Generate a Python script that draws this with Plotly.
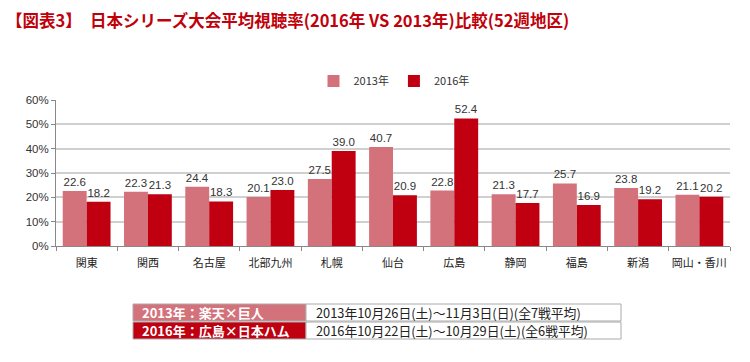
import plotly.graph_objects as go

categories = ["関東", "関西", "名古屋", "北部九州", "札幌", "仙台", "広島", "静岡", "福島", "新潟", "岡山・香川"]
rating_2013 = [22.6, 22.3, 24.4, 20.1, 27.5, 40.7, 22.8, 21.3, 25.7, 23.8, 21.1]
rating_2016 = [18.2, 21.3, 18.3, 23.0, 39.0, 20.9, 52.4, 17.7, 16.9, 19.2, 20.2]
series_names = ["2013年", "2016年"]
ytick_vals = [0, 10, 20, 30, 40, 50, 60]
ytick_text = ["0%", "10%", "20%", "30%", "40%", "50%", "60%"]
table_rows = [
    ("2013年：楽天×巨人", "2013年10月26日(土)～11月3日(日)(全7戦平均)"),
    ("2016年：広島×日本ハム", "2016年10月22日(土)～10月29日(土)(全6戦平均)"),
]
title_text = "【図表3】　日本シリーズ大会平均視聴率(2016年 VS 2013年)比較(52週地区)"

W, H = 750, 362
L, R, T, B = 56, 730, 100, 246
FONT = "Noto Sans CJK JP"
C13 = "#D4727C"
C16 = "#C00010"

def px(x):
    return (x - L) / (R - L)

def py(y):
    return (B - y) / (B - T)

fig = go.Figure()
for name, vals, col in [(series_names[0], rating_2013, C13), (series_names[1], rating_2016, C16)]:
    fig.add_trace(go.Bar(
        x=categories, y=vals, name=name, marker=dict(color=col, line=dict(width=0)),
        text=[f"{v:.1f}" for v in vals], textposition="outside",
        textfont=dict(size=11.5, color="#333333", family="Liberation Sans"),
        cliponaxis=False,
    ))

shapes = []
annotations = []
annotations.append(dict(text="<b>" + title_text + "</b>", xref="paper", yref="paper", x=px(4), y=py(20),
                        xanchor="left", yanchor="middle", showarrow=False,
                        font=dict(size=16.5, color="#C0000A", family=FONT)))
tx0, tx1, tx2 = 133, 306, 621
rows_y = [(304, 321), (322, 339)]
fills = [C13, C16]
for i, ((lab, desc), (y0, y1)) in enumerate(zip(table_rows, rows_y)):
    shapes.append(dict(type="rect", xref="paper", yref="paper", x0=px(tx0), x1=px(tx1),
                       y0=py(y1), y1=py(y0), fillcolor=fills[i], line=dict(color="#AAAAAA", width=1)))
    shapes.append(dict(type="rect", xref="paper", yref="paper", x0=px(tx1), x1=px(tx2),
                       y0=py(y1), y1=py(y0), fillcolor="white", line=dict(color="#AAAAAA", width=1)))
    annotations.append(dict(text="<b>" + lab + "</b>", xref="paper", yref="paper", x=px(tx0 + 7), y=py((y0 + y1) / 2),
                            xanchor="left", yanchor="middle", showarrow=False,
                            font=dict(size=13, color="white", family=FONT)))
    annotations.append(dict(text=desc, xref="paper", yref="paper", x=px(tx1 + 8), y=py((y0 + y1) / 2),
                            xanchor="left", yanchor="middle", showarrow=False,
                            font=dict(size=12.8, color="#222222", family=FONT)))

fig.update_layout(
    width=W, height=H,
    margin=dict(l=L, r=W - R, t=T, b=H - B, pad=0, autoexpand=False),
    paper_bgcolor="white", plot_bgcolor="white",
    barmode="group", bargap=0.22, bargroupgap=0,
    showlegend=True,
    legend=dict(orientation="h", x=px(394), y=py(81), xanchor="center", yanchor="middle",
                font=dict(size=11, color="#333333", family=FONT), itemwidth=30,
                traceorder="normal"),
    font=dict(family=FONT, color="#333333"),
    shapes=shapes, annotations=annotations,
)
fig.update_xaxes(
    tickson="boundaries", ticks="outside", ticklen=4, tickcolor="#888888",
    showline=True, linecolor="#888888", linewidth=1, tickangle=0, automargin=False,
    ticklabelstandoff=7,
    tickfont=dict(size=11, color="#222222", family=FONT), showgrid=False,
)
fig.update_yaxes(
    range=[0, 60], tickvals=ytick_vals, ticktext=ytick_text, automargin=False,
    ticks="outside", ticklen=4, tickcolor="#888888",
    showline=True, linecolor="#888888", linewidth=1,
    gridcolor="#D0D0D0", gridwidth=1.5, zeroline=False,
    tickfont=dict(size=11.5, color="#333333", family="Liberation Sans"),
)
fig.write_html("out.html", config={"displayModeBar": False},
               post_script="document.body.style.margin='0';")
